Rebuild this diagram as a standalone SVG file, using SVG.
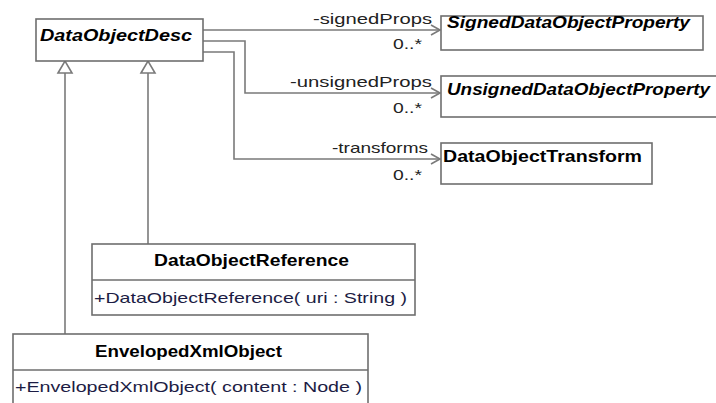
<svg xmlns="http://www.w3.org/2000/svg" width="716" height="403" viewBox="0 0 716 403">
<style>
.box{fill:#fff;stroke:#6e6e6e;stroke-width:1.6}
.ln{fill:none;stroke:#7a7a7a;stroke-width:1.6}
.name{font-family:"Liberation Sans",Arial,sans-serif;font-weight:bold;font-size:16.5px;fill:#000}
.abs{font-style:italic}
.lbl{font-family:"Liberation Sans",Arial,sans-serif;font-size:15px;fill:#222}
.op{font-family:"Liberation Sans",Arial,sans-serif;font-size:15px;fill:#1c1c44}
</style>
<defs>
<marker id="open" markerWidth="12" markerHeight="12" refX="10" refY="6" orient="auto" markerUnits="userSpaceOnUse">
<path d="M1,1 L10,6 L1,11" fill="none" stroke="#7a7a7a" stroke-width="1.6"/>
</marker>
</defs>

<g id="connectors">
<path class="ln" d="M65,334 V72"/>
<path class="ln" d="M148,244 V72"/>
<path d="M58,73 L65,61 L72,73 Z" fill="#fff" stroke="#7a7a7a" stroke-width="1.6"/>
<path d="M141,73 L148,61 L155,73 Z" fill="#fff" stroke="#7a7a7a" stroke-width="1.6"/>
<path class="ln" d="M203,30 H440" marker-end="url(#open)"/>
<path class="ln" d="M203,41 H245 V93 H440" marker-end="url(#open)"/>
<path class="ln" d="M203,52 H234 V159 H440" marker-end="url(#open)"/>
<text class="lbl" x="313" y="24" textLength="119" lengthAdjust="spacingAndGlyphs">-signedProps</text>
<text class="lbl" x="393" y="49" textLength="29" lengthAdjust="spacingAndGlyphs">0..*</text>
<text class="lbl" x="290" y="87" textLength="142" lengthAdjust="spacingAndGlyphs">-unsignedProps</text>
<text class="lbl" x="393" y="113" textLength="29" lengthAdjust="spacingAndGlyphs">0..*</text>
<text class="lbl" x="332" y="153" textLength="96" lengthAdjust="spacingAndGlyphs">-transforms</text>
<text class="lbl" x="393" y="180" textLength="29" lengthAdjust="spacingAndGlyphs">0..*</text>
</g>

<g id="DataObjectDesc">
<rect class="box" x="36" y="19" width="167" height="42"/>
<text class="name abs" x="40" y="41" textLength="152" lengthAdjust="spacingAndGlyphs">DataObjectDesc</text>
</g>

<g id="SignedDataObjectProperty">
<rect class="box" x="441" y="16" width="262" height="34"/>
<text class="name abs" x="447" y="28" textLength="243" lengthAdjust="spacingAndGlyphs">SignedDataObjectProperty</text>
</g>

<g id="UnsignedDataObjectProperty">
<rect class="box" x="441" y="76" width="290" height="41"/>
<text class="name abs" x="447" y="95" textLength="263" lengthAdjust="spacingAndGlyphs">UnsignedDataObjectProperty</text>
</g>

<g id="DataObjectTransform">
<rect class="box" x="441" y="143" width="211" height="41"/>
<text class="name" x="443" y="162" textLength="199" lengthAdjust="spacingAndGlyphs">DataObjectTransform</text>
</g>

<g id="DataObjectReference">
<rect class="box" x="92" y="244" width="323" height="71"/>
<line class="box" x1="92" y1="280" x2="415" y2="280"/>
<text class="name" x="154" y="266" textLength="195" lengthAdjust="spacingAndGlyphs">DataObjectReference</text>
<text class="op" x="94" y="303" textLength="313" lengthAdjust="spacingAndGlyphs">+DataObjectReference( uri : String )</text>
</g>

<g id="EnvelopedXmlObject">
<rect class="box" x="13" y="334" width="355" height="80"/>
<line class="box" x1="13" y1="370" x2="368" y2="370"/>
<text class="name" x="95" y="357" textLength="187" lengthAdjust="spacingAndGlyphs">EnvelopedXmlObject</text>
<text class="op" x="15" y="392" textLength="347" lengthAdjust="spacingAndGlyphs">+EnvelopedXmlObject( content : Node )</text>
</g>
</svg>
